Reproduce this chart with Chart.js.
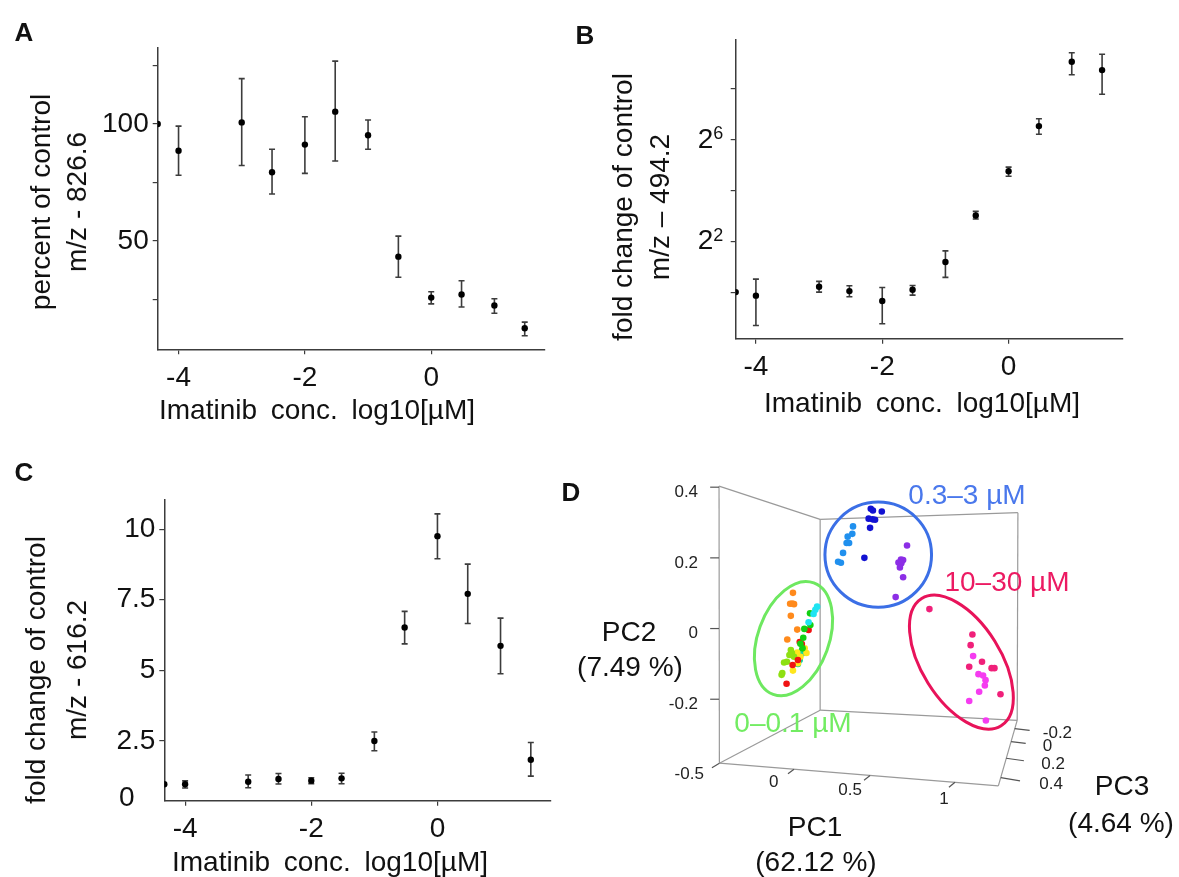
<!DOCTYPE html>
<html>
<head>
<meta charset="utf-8">
<title>Imatinib dose response and PCA</title>
<script src="https://cdn.jsdelivr.net/npm/chart.js@4.4.1/dist/chart.umd.min.js"></script>
<style>
  body { margin: 0; background: #fff; }
  #fig { position: relative; width: 1179px; height: 877px; overflow: hidden;
         font-family: "Liberation Sans", Arial, sans-serif; color: #111; }
  #fig canvas { position: absolute; }
  .t { position: absolute; white-space: nowrap; font-size: 28px; line-height: 1;
       transform: translate(-50%, -50%); }
  .v { transform: translate(-50%, -50%) rotate(-90deg); }
  .tag { font-weight: bold; font-size: 26px; }
  .xt { word-spacing: 6px; }
</style>
</head>
<body>
<div id="fig">
  <canvas id="chartA" width="560" height="440" style="left:0;top:0;width:560px;height:440px"></canvas>
  <canvas id="chartB" width="619" height="440" style="left:560px;top:0;width:619px;height:440px"></canvas>
  <canvas id="chartC" width="560" height="437" style="left:0;top:440px;width:560px;height:437px"></canvas>
  <canvas id="chartD" width="619" height="437" style="left:560px;top:440px;width:619px;height:437px"></canvas>

  <div class="t tag" style="left:24px;top:32px">A</div>
  <div class="t tag" style="left:585px;top:35px">B</div>
  <div class="t tag" style="left:24px;top:472px">C</div>
  <div class="t tag" style="left:571px;top:492px">D</div>

  <div class="t v" style="left:41px;top:202px">percent of control</div>
  <div class="t v" style="left:77px;top:202px">m/z - 826.6</div>
  <div class="t xt" style="left:317px;top:410px">Imatinib conc. log10[µM]</div>

  <div class="t v" style="left:623px;top:207px">fold change of control</div>
  <div class="t v" style="left:660px;top:207px">m/z – 494.2</div>
  <div class="t xt" style="left:922px;top:403px">Imatinib conc. log10[µM]</div>

  <div class="t v" style="left:36px;top:670px">fold change of control</div>
  <div class="t v" style="left:77px;top:670px">m/z - 616.2</div>
  <div class="t xt" style="left:330px;top:862px">Imatinib conc. log10[µM]</div>

  <div class="t" style="left:629px;top:632px">PC2</div>
  <div class="t" style="left:630px;top:667px">(7.49 %)</div>
  <div class="t" style="left:815px;top:827px">PC1</div>
  <div class="t" style="left:816px;top:862px">(62.12 %)</div>
  <div class="t" style="left:1122px;top:786px">PC3</div>
  <div class="t" style="left:1121px;top:823px">(4.64 %)</div>
  <div class="t" style="left:967px;top:495px;color:#4a78ec">0.3–3 µM</div>
  <div class="t" style="left:1007px;top:582px;color:#ec1a62">10–30 µM</div>
  <div class="t" style="left:793px;top:723px;color:#72ec62">0–0.1 µM</div>
</div>

<script>
// Imatinib concentrations, log10[µM]: 0.0001 ... 30 µM
const logConc = [-4, -3, -2.52, -2, -1.52, -1, -0.52, 0, 0.48, 1, 1.48];
const xTicks = [-4, -2, 0];

// A: m/z 826.6, percent of control (mean, lower and upper error bar)
const pctMean = [88.6, 100.7, 79.4, 91.2, 105.3, 95.2, 43.3, 25.8, 27.1, 22.4, 12.7];
const pctLow = [78.1, 82.3, 70.1, 78.9, 84.2, 89.2, 34.5, 23.1, 21.8, 19.1, 9.5];
const pctHigh = [99.1, 119.4, 89.2, 103.1, 126.9, 101.7, 52.1, 28.3, 33.0, 25.3, 15.3];
const pctControl = 100;
const pctTicks = [25, 50, 75, 100, 125];
const pctLabels = [50, 100];

// B: m/z 494.2, fold change of control as log2 (axis labelled 2^n)
const log2Mean = [-0.14, 0.21, 0.04, -0.35, 0.09, 1.18, 3.01, 4.75, 6.52, 9.05, 8.72];
const log2Low = [-1.31, 0, -0.18, -1.24, -0.12, 0.58, 2.87, 4.55, 6.20, 8.54, 7.77];
const log2High = [0.51, 0.42, 0.25, 0.18, 0.26, 1.62, 3.17, 4.91, 6.81, 9.40, 9.34];
const log2Control = 0;
const log2Ticks = [0, 2, 4, 6, 8];
const log2Labels = [2, 6];

// C: m/z 616.2, fold change of control
const foldMean = [0.97, 1.06, 1.16, 1.10, 1.18, 2.50, 6.52, 9.75, 7.71, 5.87, 1.84];
const foldLow = [0.84, 0.85, 0.98, 0.99, 0.99, 2.16, 5.94, 8.95, 6.66, 4.88, 1.26];
const foldHigh = [1.09, 1.30, 1.35, 1.20, 1.36, 2.82, 7.09, 10.54, 8.76, 6.85, 2.45];
const foldControl = 0.97;
const foldTicks = [2.5, 5, 7.5, 10];

// D: PCA scores as seen in the 3-D view (projected onto the screen, PC2 units)
const pcaDarkBlue = [[0.230, 0.339], [0.261, 0.331], [0.236, 0.334], [0.224, 0.311], [0.235, 0.309], [0.242, 0.308], [0.228, 0.285], [0.212, 0.200]];
const pcaSkyBlue = [[0.180, 0.289], [0.178, 0.268], [0.165, 0.260], [0.162, 0.242], [0.169, 0.242], [0.152, 0.214], [0.138, 0.189], [0.146, 0.186]];
const pcaViolet = [[0.332, 0.235], [0.315, 0.195], [0.321, 0.194], [0.308, 0.187], [0.316, 0.185], [0.312, 0.173], [0.321, 0.145], [0.300, 0.089]];
const pcaRose = [[0.395, 0.055], [0.516, -0.017], [0.511, -0.047], [0.543, -0.094], [0.507, -0.108], [0.570, -0.112], [0.578, -0.112], [0.595, -0.186]];
const pcaMagenta = [[0.518, -0.078], [0.533, -0.129], [0.546, -0.133], [0.553, -0.146], [0.551, -0.161], [0.535, -0.179], [0.507, -0.205], [0.554, -0.260]];
const pcaOrange = [[0.011, 0.101], [0.003, 0.070], [0.014, 0.069], [0.009, 0.071], [0.005, 0.036], [0.023, -0.003], [-0.005, -0.031]];
const pcaCyan = [[0.079, 0.062], [0.074, 0.053], [0.069, 0.041], [0.055, 0.018]];
const pcaGreen = [[0.059, 0.043], [0.060, 0.010], [0.043, -0.001], [0.040, -0.026], [0.032, -0.043], [0.038, -0.056]];
const pcaRed = [[0.055, -0.004], [0.030, -0.038], [0.036, -0.044], [0.025, -0.089], [0.010, -0.103], [-0.007, -0.156]];
const pcaYellow = [[0.023, -0.068], [0.044, -0.056], [0.049, -0.069], [0.032, -0.080], [0.011, -0.119], [0.025, -0.098]];
const pcaLime = [[0.005, -0.061], [0.008, -0.069], [0.001, -0.075], [-0.014, -0.096], [-0.019, -0.126], [-0.021, -0.131], [-0.006, -0.094], [0.014, -0.080]];
const pcaTeal = [[0.038, -0.070], [0.030, -0.089], [0.025, -0.100], [0.036, -0.063]];

const pcaGroups = [
  [pcaOrange, '#ff8a1c'], [pcaCyan, '#20e4f2'], [pcaGreen, '#12d012'], [pcaRed, '#f01212'],
  [pcaLime, '#8ee012'], [pcaYellow, '#ffe61c'], [pcaTeal, '#14d6a0'],
  [pcaSkyBlue, '#2090ee'], [pcaDarkBlue, '#1212d2'], [pcaViolet, '#8c2ee6'],
  [pcaRose, '#f0207a'], [pcaMagenta, '#f53cf0']
];

const FONT = '"Liberation Sans", Arial, sans-serif';
const ink = '#3c3c3c';
Chart.defaults.font.family = FONT;
Chart.defaults.color = '#111';

const errorBars = {
  id: 'errorBars',
  beforeDatasetsDraw(chart) {
    const { ctx, scales: { x, y } } = chart;
    ctx.save();
    ctx.strokeStyle = ink;
    ctx.lineWidth = 1.6;
    chart.data.datasets[0].data.forEach(p => {
      const px = x.getPixelForValue(p.x);
      const top = y.getPixelForValue(p.hi);
      const bot = y.getPixelForValue(p.lo);
      ctx.beginPath();
      ctx.moveTo(px, top); ctx.lineTo(px, bot);
      ctx.moveTo(px - 3, top); ctx.lineTo(px + 3, top);
      ctx.moveTo(px - 3, bot); ctx.lineTo(px + 3, bot);
      ctx.stroke();
    });
    ctx.restore();
  }
};

function fixSize(key, size) {
  return s => {
    s[key] = size;
    s.paddingLeft = s.paddingRight = s.paddingTop = s.paddingBottom = 0;
  };
}

function doseChart(id, p) {
  const points = logConc.map((x, i) => ({ x, y: p.mean[i], lo: p.low[i], hi: p.high[i] }));
  const dot = { pointRadius: 3.2, pointBackgroundColor: '#000', pointBorderWidth: 0, showLine: false };
  const grid = { drawOnChartArea: false, color: ink, tickLength: 5, lineWidth: 1.2 };
  const border = { color: ink, width: 1.5 };
  return new Chart(document.getElementById(id), {
    type: 'scatter',
    data: {
      datasets: [
        { data: points, ...dot },
        { data: [{ x: p.xMin, y: p.control }], ...dot }
      ]
    },
    options: {
      responsive: false,
      animation: false,
      events: [],
      layout: { padding: p.pad },
      plugins: { legend: { display: false }, tooltip: { enabled: false } },
      scales: {
        x: {
          type: 'linear', min: p.xMin, max: p.xMax,
          afterBuildTicks: s => { s.ticks = xTicks.map(v => ({ value: v })); },
          afterFit: fixSize('height', p.xAxisH),
          grid, border,
          ticks: { padding: 7, font: { size: 28 }, color: '#111', maxRotation: 0, autoSkip: false,
                   callback: v => String(v) }
        },
        y: {
          type: 'linear', min: p.yMin, max: p.yMax,
          afterBuildTicks: s => { s.ticks = p.yTicks.map(v => ({ value: v })); },
          afterFit: fixSize('width', p.yAxisW),
          grid, border,
          ticks: { padding: 4, font: { size: 28 }, color: '#111', autoSkip: false,
                   callback: v => (p.yLabels.includes(v) ? String(v) : '') }
        }
      }
    },
    plugins: [errorBars].concat(p.extra || [])
  });
}

// 2 with a raised exponent for the log2 axis
const powerLabels = {
  id: 'powerLabels',
  afterDraw(chart) {
    const { ctx, chartArea, scales: { y } } = chart;
    ctx.save();
    ctx.fillStyle = '#111';
    ctx.textBaseline = 'middle';
    ctx.textAlign = 'right';
    log2Labels.forEach(e => {
      const py = y.getPixelForValue(e);
      const right = chartArea.left - 12.4;
      ctx.font = '18px ' + FONT;
      const supW = ctx.measureText(String(e)).width;
      ctx.fillText(String(e), right, py - 5.5);
      ctx.font = '28px ' + FONT;
      ctx.fillText('2', right - supW, py + 0.5);
    });
    ctx.restore();
  }
};

const zeroLabel = {
  id: 'zeroLabel',
  afterDraw(chart) {
    const { ctx, chartArea, scales: { y } } = chart;
    ctx.save();
    ctx.font = '28px ' + FONT;
    ctx.fillStyle = '#111';
    ctx.textAlign = 'center';
    ctx.textBaseline = 'middle';
    ctx.fillText('0', chartArea.left - 37.6, y.getPixelForValue(y.min) - 2.4);
    ctx.restore();
  }
};

doseChart('chartA', {
  mean: pctMean, low: pctLow, high: pctHigh, control: pctControl,
  xMin: -4.33, xMax: 1.79, yMin: 3.7, yMax: 132.8,
  yTicks: pctTicks, yLabels: pctLabels,
  pad: { left: 0, top: 47.3, right: 15.7, bottom: 0 }, yAxisW: 157.7, xAxisH: 90.7
});

doseChart('chartB', {
  mean: log2Mean, low: log2Low, high: log2High, control: log2Control,
  xMin: -4.32, xMax: 1.80, yMin: -1.83, yMax: 9.93,
  yTicks: log2Ticks, yLabels: [],
  pad: { left: 0, top: 39.3, right: 56.7, bottom: 0 }, yAxisW: 175.7, xAxisH: 101.3,
  extra: [powerLabels]
});

doseChart('chartC', {
  mean: foldMean, low: foldLow, high: foldHigh, control: foldControl,
  xMin: -4.33, xMax: 1.80, yMin: 0.39, yMax: 11.03,
  yTicks: foldTicks, yLabels: foldTicks,
  pad: { left: 0, top: 60, right: 9, bottom: 0 }, yAxisW: 164.3, xAxisH: 76.3,
  extra: [zeroLabel]
});

// ---- D: perspective box, axis ticks and cluster rings, in the same projected units ----
const boxCorners = {
  flt: [-0.197, 0.403], flb: [-0.196, -0.381], blt: [0.0875, 0.309], blb: [0.0875, -0.231],
  brt: [0.644, 0.328], brb: [0.642, -0.260], frb: [0.589, -0.445]
};
const boxEdges = [['flt', 'flb'], ['flt', 'blt'], ['blt', 'blb'], ['flb', 'blb'], ['blt', 'brt'],
                  ['brt', 'brb'], ['blb', 'brb'], ['flb', 'frb'], ['brb', 'frb']];
const pc2Ticks = [0.4, 0.2, 0, -0.2];
const pc1Ticks = [
  ['-0.5', [-0.196, -0.381], [-0.217, -0.394], [-0.281, -0.413]],
  ['0', [0.014, -0.398], [-0.003, -0.411], [-0.043, -0.436]],
  ['0.5', [0.228, -0.416], [0.211, -0.429], [0.172, -0.457]],
  ['1', [0.467, -0.435], [0.450, -0.449], [0.436, -0.483]]
];
const pc3Ticks = [
  ['-0.2', [0.635, -0.283], [0.677, -0.288], [0.714, -0.297]],
  ['0', [0.625, -0.320], [0.666, -0.325], [0.714, -0.334]],
  ['0.2', [0.611, -0.367], [0.661, -0.374], [0.710, -0.383]],
  ['0.4', [0.596, -0.422], [0.650, -0.431], [0.704, -0.441]]
];
const clusterRings = [
  { c: [0.251, 0.209], r: [0.150, 0.148], rot: 0, color: '#3b6fe6' },
  { c: [0.0125, -0.0286], r: [0.100, 0.167], rot: 20, color: '#6ee860' },
  { c: [0.485, -0.095], r: [0.111, 0.211], rot: -32, color: '#e8135a' }
];

const pcaFrame = {
  id: 'pcaFrame',
  beforeDatasetsDraw(chart) {
    const { ctx, scales: { x, y } } = chart;
    const P = ([u, v]) => [x.getPixelForValue(u), y.getPixelForValue(v)];
    const seg = (a, b) => {
      const [ax, ay] = P(a), [bx, by] = P(b);
      ctx.beginPath(); ctx.moveTo(ax, ay); ctx.lineTo(bx, by); ctx.stroke();
    };
    ctx.save();
    ctx.strokeStyle = '#9a9a9a';
    ctx.lineWidth = 1.2;
    boxEdges.forEach(([a, b]) => seg(boxCorners[a], boxCorners[b]));
    ctx.strokeStyle = '#555';
    ctx.fillStyle = '#222';
    ctx.font = '17px ' + FONT;
    ctx.textBaseline = 'middle';
    ctx.textAlign = 'right';
    pc2Ticks.forEach(v => {
      seg([-0.222, v], [-0.197, v]);
      const [lx, ly] = P([-0.256, v]);
      ctx.fillText(String(v), lx, ly + 5);
    });
    ctx.textAlign = 'center';
    pc1Ticks.forEach(([t, a, b, l]) => {
      seg(a, b);
      const [lx, ly] = P(l);
      ctx.fillText(t, lx, ly);
    });
    ctx.textAlign = 'left';
    pc3Ticks.forEach(([t, a, b, l]) => {
      seg(a, b);
      const [lx, ly] = P(l);
      ctx.fillText(t, lx, ly);
    });
    ctx.restore();
  },
  afterDatasetsDraw(chart) {
    const { ctx, scales: { x, y } } = chart;
    const unit = x.getPixelForValue(1) - x.getPixelForValue(0);
    ctx.save();
    ctx.lineWidth = 3;
    clusterRings.forEach(e => {
      ctx.strokeStyle = e.color;
      ctx.beginPath();
      ctx.ellipse(x.getPixelForValue(e.c[0]), y.getPixelForValue(e.c[1]),
                  e.r[0] * unit, e.r[1] * unit, e.rot * Math.PI / 180, 0, Math.PI * 2);
      ctx.stroke();
    });
    ctx.restore();
  }
};

new Chart(document.getElementById('chartD'), {
  type: 'scatter',
  data: {
    datasets: pcaGroups.map(([pts, color]) => ({
      data: pts.map(([u, v]) => ({ x: u, y: v })),
      pointRadius: 3.3,
      pointBackgroundColor: color,
      pointBorderWidth: 0
    }))
  },
  options: {
    responsive: false,
    animation: false,
    events: [],
    layout: { padding: 0 },
    plugins: { legend: { display: false }, tooltip: { enabled: false } },
    scales: {
      x: { type: 'linear', display: false, min: -0.6333, max: 1.0861 },
      y: { type: 'linear', display: false, min: -0.6917, max: 0.5222 }
    }
  },
  plugins: [pcaFrame]
});
</script>
</body>
</html>
